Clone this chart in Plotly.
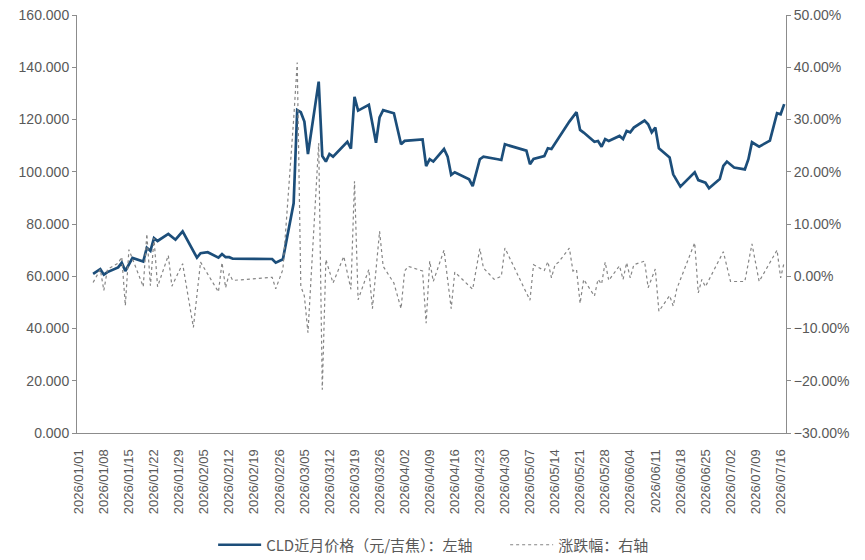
import plotly.graph_objects as go
import pandas as pd

price_dates = [
    "2026-01-05", "2026-01-07", "2026-01-08", "2026-01-09", "2026-01-12", "2026-01-13",
    "2026-01-14", "2026-01-16", "2026-01-19", "2026-01-20", "2026-01-21", "2026-01-22",
    "2026-01-23", "2026-01-26", "2026-01-28", "2026-01-30", "2026-02-03", "2026-02-04",
    "2026-02-06", "2026-02-09", "2026-02-10", "2026-02-11", "2026-02-12", "2026-02-13",
    "2026-02-24", "2026-02-25", "2026-02-27", "2026-03-02", "2026-03-03", "2026-03-04",
    "2026-03-05", "2026-03-06", "2026-03-09", "2026-03-10", "2026-03-11", "2026-03-12",
    "2026-03-13", "2026-03-17", "2026-03-18", "2026-03-19", "2026-03-20", "2026-03-23",
    "2026-03-25", "2026-03-26", "2026-03-27", "2026-03-30", "2026-04-01", "2026-04-02",
    "2026-04-07", "2026-04-08", "2026-04-09", "2026-04-10", "2026-04-13", "2026-04-14",
    "2026-04-15", "2026-04-16", "2026-04-20", "2026-04-21", "2026-04-23", "2026-04-24",
    "2026-04-28", "2026-04-29", "2026-04-30", "2026-05-06", "2026-05-07", "2026-05-08",
    "2026-05-11", "2026-05-12", "2026-05-13", "2026-05-18", "2026-05-20", "2026-05-21",
    "2026-05-22", "2026-05-25", "2026-05-26", "2026-05-27", "2026-05-28", "2026-05-29",
    "2026-06-01", "2026-06-02", "2026-06-03", "2026-06-04", "2026-06-05", "2026-06-08",
    "2026-06-09", "2026-06-10", "2026-06-11", "2026-06-12", "2026-06-15", "2026-06-16",
    "2026-06-18", "2026-06-22", "2026-06-23", "2026-06-25", "2026-06-26", "2026-06-29",
    "2026-06-30", "2026-07-01", "2026-07-03", "2026-07-06", "2026-07-07", "2026-07-08",
    "2026-07-10", "2026-07-13", "2026-07-15", "2026-07-16", "2026-07-17",
]
price_values = [
    60.9, 62.7, 60.6, 61.6, 63.4, 65.2,
    62.0, 67.0, 65.6, 70.9, 69.7, 74.6,
    73.5, 76.2, 74.0, 77.2, 67.1, 68.8,
    69.2, 67.1, 68.5, 67.3, 67.3, 66.7,
    66.6, 65.2, 66.5, 87.9, 123.6, 122.8,
    119.2, 106.8, 134.5, 106.0, 103.9, 106.8,
    105.8, 111.5, 108.8, 128.7, 123.4, 125.6,
    111.1, 120.8, 123.6, 122.4, 110.5, 111.8,
    112.4, 102.2, 104.8, 103.9, 108.7, 105.8,
    98.8, 99.8, 97.1, 94.5, 104.8, 105.8,
    104.8, 104.5, 110.5, 108.1, 102.9, 104.9,
    106.0, 109.0, 108.7, 119.2, 122.8, 116.0,
    115.0, 111.5, 111.8, 109.6, 112.5, 111.8,
    113.7, 112.5, 115.6, 115.1, 116.9, 119.6,
    118.2, 115.1, 116.9, 109.0, 105.5, 99.0,
    94.3, 99.8, 96.8, 95.8, 93.7, 97.2,
    102.2, 103.9, 101.6, 100.9, 104.8, 111.3,
    109.6, 111.9, 122.4, 122.0, 125.9,
]

change_dates = [
    "2026-01-05", "2026-01-07", "2026-01-08", "2026-01-09", "2026-01-12", "2026-01-13",
    "2026-01-14", "2026-01-15", "2026-01-19", "2026-01-20", "2026-01-21", "2026-01-22",
    "2026-01-23", "2026-01-26", "2026-01-27", "2026-01-30", "2026-02-02", "2026-02-04",
    "2026-02-09", "2026-02-10", "2026-02-11", "2026-02-12", "2026-02-13", "2026-02-24",
    "2026-02-25", "2026-02-27", "2026-03-02", "2026-03-03", "2026-03-04", "2026-03-05",
    "2026-03-06", "2026-03-09", "2026-03-10", "2026-03-11", "2026-03-13", "2026-03-16",
    "2026-03-18", "2026-03-19", "2026-03-20", "2026-03-23", "2026-03-24", "2026-03-26",
    "2026-03-27", "2026-03-30", "2026-04-01", "2026-04-02", "2026-04-03", "2026-04-07",
    "2026-04-08", "2026-04-09", "2026-04-10", "2026-04-13", "2026-04-15", "2026-04-16",
    "2026-04-21", "2026-04-23", "2026-04-24", "2026-04-27", "2026-04-29", "2026-04-30",
    "2026-05-07", "2026-05-08", "2026-05-11", "2026-05-12", "2026-05-13", "2026-05-14",
    "2026-05-15", "2026-05-18", "2026-05-19", "2026-05-20", "2026-05-21", "2026-05-22",
    "2026-05-25", "2026-05-26", "2026-05-27", "2026-05-28", "2026-05-29", "2026-06-01",
    "2026-06-02", "2026-06-03", "2026-06-04", "2026-06-05", "2026-06-08", "2026-06-09",
    "2026-06-11", "2026-06-12", "2026-06-15", "2026-06-16", "2026-06-17", "2026-06-22",
    "2026-06-23", "2026-06-24", "2026-06-25", "2026-06-30", "2026-07-02", "2026-07-06",
    "2026-07-08", "2026-07-10", "2026-07-15", "2026-07-16", "2026-07-17",
]
change_values = [
    -1.2, 1.3, -2.7, 1.3, 2.5, 3.7,
    -5.6, 5.1, -2.0, 8.1, -1.8, 7.3,
    -2.0, 4.0, -1.9, 2.4, -9.8, 2.7,
    -3.0, 2.6, -2.2, 0.5, -0.8, -0.2,
    -2.4, 1.3, 30.0, 40.9, -1.9, -3.8,
    -10.8, 25.5, -21.7, 3.2, -1.3, 3.8,
    -2.5, 18.2, -4.5, 1.3, -6.2, 8.6,
    1.9, -1.3, -6.2, 1.0, 1.9, 1.0,
    -9.0, 2.9, -1.0, 5.0, -6.2, 0.8,
    -2.5, 5.3, 1.6, -0.6, 0.0, 5.4,
    -4.6, 2.2, 1.1, 2.8, -0.3, 2.2,
    2.7, 5.4, 1.0, 1.3, -5.2, -0.6,
    -3.8, -0.6, -1.5, 2.7, -0.8, 2.0,
    -0.6, 2.6, -0.3, 2.2, 2.9, -2.2,
    1.4, -6.7, -3.7, -5.7, -2.4, 6.4,
    -3.2, -0.6, -2.0, 4.7, -1.0, -1.0,
    6.2, -1.0, 5.0, -0.3, 2.7,
]

tick_dates = pd.date_range("2026-01-01", "2026-07-16", freq="7D")
tick_labels = [d.strftime("%Y/%m/%d") for d in tick_dates]

FONT = "Liberation Sans, Arial, Noto Sans CJK SC, sans-serif"
CJK = "Noto Sans CJK SC, Liberation Sans, sans-serif"
TXT = "#595959"
AX = "#8c8c8c"

fig = go.Figure()
fig.add_trace(go.Scatter(
    x=price_dates, y=price_values, mode="lines",
    name="CLD近月价格（元/吉焦）：左轴",
    line=dict(color="#1c4e7a", width=2.7),
))
fig.add_trace(go.Scatter(
    x=change_dates, y=change_values, mode="lines", yaxis="y2",
    name="涨跌幅：右轴",
    line=dict(color="#858585", width=1.2, dash="dot"),
))

fig.update_layout(
    width=865, height=560,
    margin=dict(l=77, r=79, t=15, b=127, autoexpand=False),
    paper_bgcolor="white", plot_bgcolor="white",
    font=dict(family=FONT, size=14, color=TXT),
    showlegend=True,
    legend=dict(orientation="h", x=0.192, xanchor="left", y=-0.268, yanchor="middle",
                font=dict(family=CJK, size=15, color=TXT), itemwidth=43,
                traceorder="normal", entrywidthmode="pixels", entrywidth=234),
    xaxis=dict(
        type="date", automargin=False,
        range=["2025-12-31 12:00", "2026-07-17 12:00"],
        tickmode="array", tickvals=list(tick_dates), ticktext=tick_labels,
        tickangle=-90, tickfont=dict(size=13, color=TXT),
        ticklabelstandoff=10,
        showgrid=False, zeroline=False,
        showline=True, linecolor=AX, linewidth=1, ticks="",
    ),
    yaxis=dict(
        automargin=False,
        range=[0, 160], dtick=20, tickformat=".3f",
        tickfont=dict(size=14, color=TXT),
        showgrid=False, zeroline=False,
        showline=True, linecolor=AX, linewidth=1,
        ticks="outside", ticklen=4, tickcolor=AX,
    ),
    yaxis2=dict(
        overlaying="y", side="right", automargin=False,
        range=[-30, 50], dtick=10, tickformat=".2f", ticksuffix="%",
        tickfont=dict(size=14, color=TXT),
        showgrid=False, zeroline=False,
        showline=True, linecolor=AX, linewidth=1,
        ticks="outside", ticklen=4, tickcolor=AX,
    ),
)

fig.write_html("out.html")
